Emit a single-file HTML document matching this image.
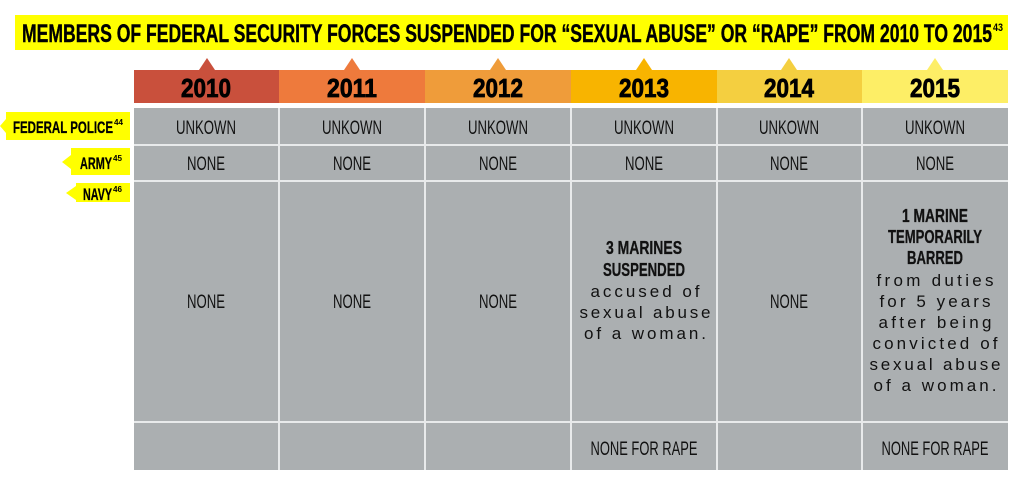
<!DOCTYPE html>
<html><head><style>body{margin:0;background:#fff}svg{display:block}</style></head><body>
<svg width="1023" height="489" xmlns="http://www.w3.org/2000/svg" font-family="Liberation Sans, sans-serif">
<rect width="1023" height="489" fill="#fff"/>
<rect x="15" y="15" width="993" height="35" fill="#ffff00"/>
<text x="22" y="42" font-size="25" font-weight="bold" stroke="#000" stroke-width="0.4" textLength="970" lengthAdjust="spacingAndGlyphs">MEMBERS OF FEDERAL SECURITY FORCES SUSPENDED FOR “SEXUAL ABUSE” OR “RAPE” FROM 2010 TO 2015</text>
<text x="993" y="31" font-size="11" font-weight="bold" textLength="10" lengthAdjust="spacingAndGlyphs">43</text>
<g font-size="26" font-weight="bold" text-anchor="middle" stroke="#000" stroke-width="0.8">
<polygon points="199,70 207,58 215,70" fill="#c9503c" stroke="none"/><rect x="134" y="70" width="145" height="33" fill="#c9503c" stroke="none"/>
<polygon points="344,70 352,58 360,70" fill="#ee7a3c" stroke="none"/><rect x="279" y="70" width="146" height="33" fill="#ee7a3c" stroke="none"/>
<polygon points="490,70 498,58 506,70" fill="#ef9c3a" stroke="none"/><rect x="425" y="70" width="146" height="33" fill="#ef9c3a" stroke="none"/>
<polygon points="636,70 644,58 652,70" fill="#f8b400" stroke="none"/><rect x="571" y="70" width="146" height="33" fill="#f8b400" stroke="none"/>
<polygon points="781,70 789,58 797,70" fill="#f4cf40" stroke="none"/><rect x="717" y="70" width="145" height="33" fill="#f4cf40" stroke="none"/>
<polygon points="927,70 935,58 943,70" fill="#fdee66" stroke="none"/><rect x="862" y="70" width="146" height="33" fill="#fdee66" stroke="none"/>
<text x="206" y="97" textLength="50" lengthAdjust="spacingAndGlyphs">2010</text>
<text x="352" y="97" textLength="50" lengthAdjust="spacingAndGlyphs">2011</text>
<text x="498" y="97" textLength="50" lengthAdjust="spacingAndGlyphs">2012</text>
<text x="644" y="97" textLength="50" lengthAdjust="spacingAndGlyphs">2013</text>
<text x="789" y="97" textLength="50" lengthAdjust="spacingAndGlyphs">2014</text>
<text x="935" y="97" textLength="50" lengthAdjust="spacingAndGlyphs">2015</text>
</g>
<rect x="134" y="108" width="874" height="362" fill="#abafb1"/>
<g stroke="#e8eaeb" stroke-width="2">
<line x1="134" y1="145" x2="1008" y2="145"/><line x1="134" y1="181" x2="1008" y2="181"/><line x1="134" y1="422" x2="1008" y2="422"/>
<line x1="279" y1="108" x2="279" y2="470"/><line x1="425" y1="108" x2="425" y2="470"/><line x1="571" y1="108" x2="571" y2="470"/><line x1="717" y1="108" x2="717" y2="470"/><line x1="862" y1="108" x2="862" y2="470"/>
</g>
<g font-size="19" text-anchor="middle" fill="#111">
<text x="206" y="134" textLength="60" lengthAdjust="spacingAndGlyphs">UNKOWN</text>
<text x="352" y="134" textLength="60" lengthAdjust="spacingAndGlyphs">UNKOWN</text>
<text x="498" y="134" textLength="60" lengthAdjust="spacingAndGlyphs">UNKOWN</text>
<text x="644" y="134" textLength="60" lengthAdjust="spacingAndGlyphs">UNKOWN</text>
<text x="789" y="134" textLength="60" lengthAdjust="spacingAndGlyphs">UNKOWN</text>
<text x="935" y="134" textLength="60" lengthAdjust="spacingAndGlyphs">UNKOWN</text>
<text x="206" y="170" textLength="38" lengthAdjust="spacingAndGlyphs">NONE</text>
<text x="352" y="170" textLength="38" lengthAdjust="spacingAndGlyphs">NONE</text>
<text x="498" y="170" textLength="38" lengthAdjust="spacingAndGlyphs">NONE</text>
<text x="644" y="170" textLength="38" lengthAdjust="spacingAndGlyphs">NONE</text>
<text x="789" y="170" textLength="38" lengthAdjust="spacingAndGlyphs">NONE</text>
<text x="935" y="170" textLength="38" lengthAdjust="spacingAndGlyphs">NONE</text>
<text x="206" y="308" textLength="38" lengthAdjust="spacingAndGlyphs">NONE</text>
<text x="352" y="308" textLength="38" lengthAdjust="spacingAndGlyphs">NONE</text>
<text x="498" y="308" textLength="38" lengthAdjust="spacingAndGlyphs">NONE</text>
<text x="789" y="308" textLength="38" lengthAdjust="spacingAndGlyphs">NONE</text>
<text x="644" y="455" textLength="107" lengthAdjust="spacingAndGlyphs">NONE FOR RAPE</text>
<text x="935" y="455" textLength="107" lengthAdjust="spacingAndGlyphs">NONE FOR RAPE</text>
<g font-weight="bold" font-size="18" stroke="#111" stroke-width="0.3">
<text x="644" y="254" textLength="76" lengthAdjust="spacingAndGlyphs">3 MARINES</text>
<text x="644" y="276" textLength="82" lengthAdjust="spacingAndGlyphs">SUSPENDED</text>
<text x="935" y="222" textLength="66" lengthAdjust="spacingAndGlyphs">1 MARINE</text>
<text x="935" y="243" textLength="94" lengthAdjust="spacingAndGlyphs">TEMPORARILY</text>
<text x="935" y="264" textLength="56" lengthAdjust="spacingAndGlyphs">BARRED</text>
</g>
<g font-size="17">
<text x="645" y="297" textLength="109" lengthAdjust="spacing">accused of</text>
<text x="645" y="318" textLength="131" lengthAdjust="spacing">sexual abuse</text>
<text x="645" y="339" textLength="122" lengthAdjust="spacing">of a woman.</text>
<text x="935" y="286" textLength="117" lengthAdjust="spacing">from duties</text>
<text x="935" y="307" textLength="111" lengthAdjust="spacing">for 5 years</text>
<text x="935" y="328" textLength="113" lengthAdjust="spacing">after being</text>
<text x="935" y="349" textLength="125" lengthAdjust="spacing">convicted of</text>
<text x="935" y="370" textLength="131" lengthAdjust="spacing">sexual abuse</text>
<text x="935" y="391" textLength="123" lengthAdjust="spacing">of a woman.</text>
</g>
</g>
<g fill="#ffff00">
<rect x="6" y="112" width="124" height="28"/><polygon points="6,119 0,126 6,133"/>
<rect x="71" y="148" width="59" height="27"/><polygon points="71,155 62,162 71,169"/>
<rect x="76" y="183" width="54" height="19"/><polygon points="76,186 66,193 76,200"/>
</g>
<g font-weight="bold" font-size="17" fill="#000" stroke="#000" stroke-width="0.3">
<text x="13" y="133" textLength="100" lengthAdjust="spacingAndGlyphs">FEDERAL POLICE</text>
<text x="114" y="125" font-size="8" stroke="none" textLength="9" lengthAdjust="spacingAndGlyphs">44</text>
<text x="80" y="169" textLength="32" lengthAdjust="spacingAndGlyphs">ARMY</text>
<text x="113" y="161" font-size="8" stroke="none" textLength="9" lengthAdjust="spacingAndGlyphs">45</text>
<text x="83" y="200" textLength="29" lengthAdjust="spacingAndGlyphs">NAVY</text>
<text x="113" y="192" font-size="8" stroke="none" textLength="9" lengthAdjust="spacingAndGlyphs">46</text>
</g>
</svg>
</body></html>
